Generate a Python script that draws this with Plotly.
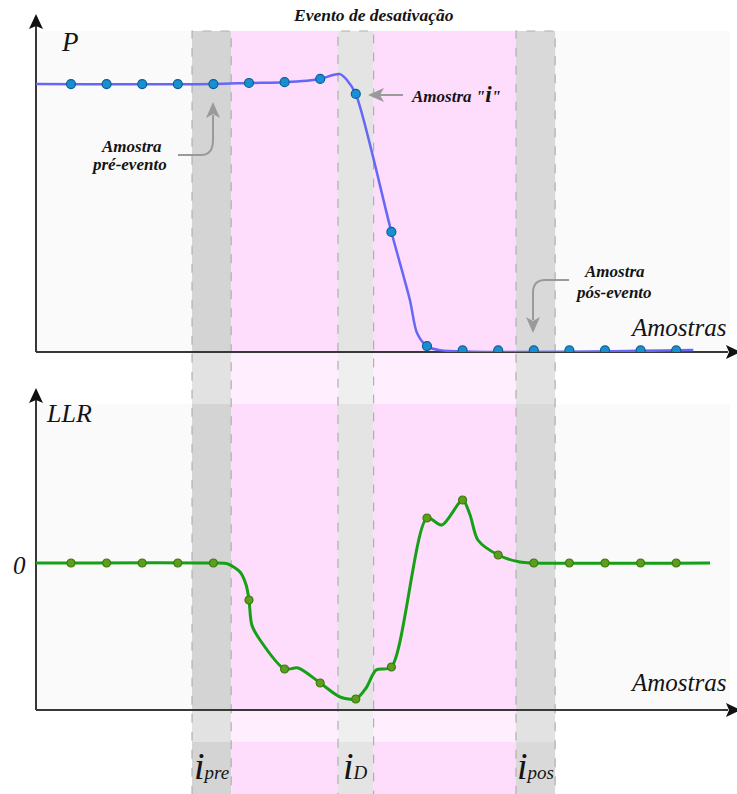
import plotly.graph_objects as go

# ---- data -------------------------------------------------------------
# sample indices (dots)
SAMPLES = list(range(18))

# power P (normalised) at each sample
P_VALUES = [1.0, 1.0, 1.0, 1.0, 1.0, 1.004, 1.007, 1.019, 0.963, 0.448,
            0.022, 0.006, 0.006, 0.006, 0.006, 0.006, 0.006, 0.006]

# knots of the continuous P curve
P_CURVE_X = [-0.983, 4, 5, 6, 7, 7.36, 7.56, 7.75, 8, 9, 9.52, 9.72, 10, 10.36, 17.48]
P_CURVE_Y = [1.0, 1.0, 1.004, 1.007, 1.019, 1.034, 1.037, 1.015, 0.963, 0.448,
             0.194, 0.071, 0.022, 0.007, 0.007]

# log-likelihood ratio at each sample
LLR_VALUES = [0, 0, 0, 0, 0, -0.37, -1.06, -1.20, -1.36, -1.04,
              0.45, 0.63, 0.08, 0, 0, 0, 0, 0]

# knots of the continuous LLR curve
LLR_CURVE_X = [-0.983, 4, 4.41, 4.75, 4.92, 5.0, 5.08, 5.31, 6, 6.38, 7, 7.56, 8, 8.29, 8.57, 9,
               10, 10.42, 11, 11.21, 11.43, 12, 12.61, 13, 17.95]
LLR_CURVE_Y = [0, 0, -0.01, -0.09, -0.22, -0.37, -0.62, -0.77, -1.06, -1.05, -1.20, -1.34, -1.36,
               -1.25, -1.07, -1.04, 0.45, 0.38, 0.63, 0.48, 0.23, 0.08, 0.01, 0, 0]

# highlighted sample windows (pre-event, event "i", post-event) and their labels
BANDS = [(3.4, 4.5), (7.5, 8.5), (12.5, 13.6)]
BAND_LABELS = ["pre", "D", "pos"]

# ---- geometry helpers (pixel -> paper) --------------------------------
W, H = 737, 794


def fx(px):
    return px / W


def fy(py):
    return 1 - py / H


def path(points, close=False):
    s = "M " + " L ".join(f"{fx(x):.5f},{fy(y):.5f}" for x, y in points)
    return s + (" Z" if close else "")


def qpath(p0, p1, c, p2, p3):
    return (f"M {fx(p0[0]):.5f},{fy(p0[1]):.5f} L {fx(p1[0]):.5f},{fy(p1[1]):.5f} "
            f"Q {fx(c[0]):.5f},{fy(c[1]):.5f} {fx(p2[0]):.5f},{fy(p2[1]):.5f} "
            f"L {fx(p3[0]):.5f},{fy(p3[1]):.5f}")


fig = go.Figure()

# ---- traces -----------------------------------------------------------
fig.add_trace(go.Scatter(x=P_CURVE_X, y=P_CURVE_Y, mode="lines",
                         line=dict(color="#6666f8", width=2.5, shape="spline", smoothing=0.8),
                         yaxis="y", hoverinfo="skip"))
fig.add_trace(go.Scatter(x=SAMPLES, y=P_VALUES, mode="markers",
                         marker=dict(color="#1a8fd0", size=9, line=dict(color="#0b5f98", width=1.2)),
                         yaxis="y"))
fig.add_trace(go.Scatter(x=LLR_CURVE_X, y=LLR_CURVE_Y, mode="lines",
                         line=dict(color="#15a015", width=3, shape="spline", smoothing=0.8),
                         yaxis="y2", hoverinfo="skip"))
fig.add_trace(go.Scatter(x=SAMPLES, y=LLR_VALUES, mode="markers",
                         marker=dict(color="#5e9e1e", size=8, line=dict(color="#3b7a10", width=1.2)),
                         yaxis="y2"))

shapes = []

# panel backgrounds
for top, bot in [(31, 352), (404, 710)]:
    shapes.append(dict(type="rect", xref="paper", yref="paper", x0=fx(36), x1=fx(730),
                       y0=fy(bot), y1=fy(top), fillcolor="#fafafa", line_width=0, layer="below"))

# vertical strips: strong inside panels / label row, faded in the gaps
strong = {"band0": "#d4d4d4", "band1": "#e4e4e4", "band2": "#d9d9d9", "pink": "#fddcfc"}
faded = {"band0": "#e2e2e2", "band1": "#efefef", "band2": "#e2e2e2", "pink": "#ffeefe"}
rows = [(31, 352, strong), (352, 404, faded), (404, 710, strong), (710, 742, faded), (742, 794, strong)]

strips = [("band0", BANDS[0][0], BANDS[0][1]), ("pink", BANDS[0][1], BANDS[1][0]),
          ("band1", BANDS[1][0], BANDS[1][1]), ("pink", BANDS[1][1], BANDS[2][0]),
          ("band2", BANDS[2][0], BANDS[2][1])]
for top, bot, pal in rows:
    for key, a, b in strips:
        shapes.append(dict(type="rect", xref="x", yref="paper", x0=a, x1=b,
                           y0=fy(bot), y1=fy(top), fillcolor=pal[key], line_width=0, layer="below"))

# dashed outlines of the sample windows
for a, b in BANDS:
    shapes.append(dict(type="rect", xref="x", yref="paper", x0=a, x1=b, y0=fy(800), y1=fy(31),
                       line=dict(color="#b0b0b0", width=1.2, dash="dash"), layer="below"))

# axes
AX = "#383838"
for y_axis, y_top in [(352, 26), (710, 400)]:
    shapes.append(dict(type="line", xref="paper", yref="paper", x0=fx(36), x1=fx(36),
                       y0=fy(y_axis), y1=fy(y_top), line=dict(color=AX, width=2), layer="below"))
    shapes.append(dict(type="line", xref="paper", yref="paper", x0=fx(36), x1=fx(728),
                       y0=fy(y_axis), y1=fy(y_axis), line=dict(color=AX, width=2), layer="below"))

# arrowheads of the axes
for tip in [14, 388]:
    shapes.append(dict(type="path", xref="paper", yref="paper",
                       path=path([(36, tip), (43, tip + 15), (36, tip + 12), (29, tip + 15)], True),
                       fillcolor="#111", line_width=0))
for yy in [352, 710]:
    shapes.append(dict(type="path", xref="paper", yref="paper",
                       path=path([(741, yy), (726, yy - 7), (729, yy), (726, yy + 7)], True),
                       fillcolor="#111", line_width=0))

# gray pointer arrows
GR = "#9a9a9a"
shapes.append(dict(type="path", xref="paper", yref="paper",
                   path=qpath((178, 155), (201, 155), (213, 155), (213, 140), (213, 115)),
                   line=dict(color=GR, width=2)))
shapes.append(dict(type="path", xref="paper", yref="paper",
                   path=path([(213, 102), (220, 118), (213, 114), (206, 118)], True),
                   fillcolor=GR, line_width=0))
shapes.append(dict(type="path", xref="paper", yref="paper",
                   path=qpath((569, 280), (545, 280), (533, 280), (533, 293), (533, 320)),
                   line=dict(color=GR, width=2)))
shapes.append(dict(type="path", xref="paper", yref="paper",
                   path=path([(533, 333), (526, 317), (533, 321), (540, 317)], True),
                   fillcolor=GR, line_width=0))
shapes.append(dict(type="line", xref="paper", yref="paper", x0=fx(403), x1=fx(380),
                   y0=fy(95), y1=fy(95), line=dict(color=GR, width=2)))
shapes.append(dict(type="path", xref="paper", yref="paper",
                   path=path([(368, 95), (384, 88), (380, 95), (384, 102)], True),
                   fillcolor=GR, line_width=0))

# ---- text -------------------------------------------------------------
SERIF = "Liberation Serif"
TXT = "#141414"
ann = []


def label(x, y, text, size, bold=False, xanchor="center"):
    ann.append(dict(xref="paper", yref="paper", x=fx(x), y=fy(y), text=text, showarrow=False,
                    xanchor=xanchor, yanchor="middle",
                    font=dict(family=SERIF, size=size, color=TXT, style="italic",
                              weight="bold" if bold else "normal")))


label(373, 15, "Evento de desativação", 17.5, bold=True)
label(70, 42, "P", 27)
label(69, 413, "LLR", 26)
label(19, 565, "0", 25)
label(728, 327, "Amostras", 25, xanchor="right")
label(728, 682, "Amostras", 25, xanchor="right")
label(131, 146, "Amostra", 17, bold=True)
label(129, 164, "pré-evento", 17, bold=True)
label(456, 94, 'Amostra "<span style="font-size:23px">i</span>"', 17, bold=True)
label(614, 271, "Amostra", 17, bold=True)
label(613, 292, "pós-evento", 17, bold=True)

for (a, b), sub in zip(BANDS, BAND_LABELS):
    ann.append(dict(xref="x", yref="paper", x=(a + b) / 2, y=fy(766),
                    text=f'i<span style="font-size:19px">{sub}</span>',
                    showarrow=False, xanchor="center", yanchor="middle",
                    font=dict(family=SERIF, size=38, color=TXT, style="italic")))

fig.update_layout(
    width=W, height=H, margin=dict(l=0, r=0, t=0, b=0),
    paper_bgcolor="white", plot_bgcolor="rgba(0,0,0,0)", showlegend=False,
    xaxis=dict(range=[-1.994, 18.708], domain=[0, 1], visible=False, fixedrange=True),
    yaxis=dict(domain=[fy(352), fy(31)], range=[0, 1.198], visible=False),
    yaxis2=dict(domain=[fy(710), fy(404)], range=[-1.47, 1.59], visible=False, anchor="x"),
    shapes=shapes, annotations=ann,
)

fig.write_html("out.html")
